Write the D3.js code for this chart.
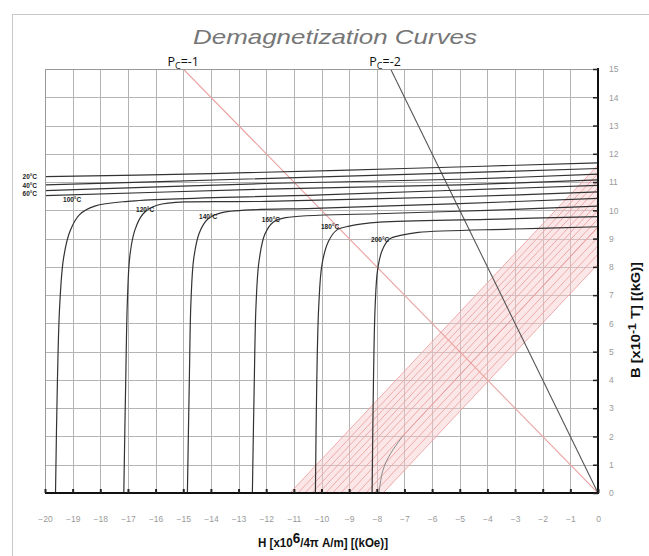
<!DOCTYPE html>
<html>
<head>
<meta charset="utf-8">
<script src="https://cdn.jsdelivr.net/npm/d3@7"></script>
<style>
  body { margin: 0; background: #fff; }
  svg { display: block; }
</style>
</head>
<body>
<script>
// axis ticks
var hTicks = [-20, -19, -18, -17, -16, -15, -14, -13, -12, -11, -10, -9, -8, -7, -6, -5, -4, -3, -2, -1, 0];
var bTicks = [0, 1, 2, 3, 4, 5, 6, 7, 8, 9, 10, 11, 12, 13, 14, 15];

// intrinsic curves [H kOe, B kG]
var curve20  = [[-20.6, 11.18], [-14, 11.3], [-7, 11.48], [0, 11.68]];
var curve40  = [[-20.6, 10.88], [-13, 11.1], [-6, 11.3], [0, 11.48]];
var curve60  = [[-20.6, 10.68], [-12, 10.95], [-5, 11.1], [0, 11.28]];
var curve80  = [[-20.6, 10.5], [-12, 10.75], [-5, 10.9], [0, 11.08]];
var curve100 = [[-19.62, 0], [-19.55, 4], [-19.47, 6.6], [-19.33, 8.3], [-19.1, 9.25], [-18.75, 9.85], [-18.2, 10.15], [-17, 10.32], [-10, 10.55], [0, 10.88]];
var curve120 = [[-17.15, 0], [-17.08, 4], [-17.02, 6.8], [-16.93, 8.4], [-16.75, 9.3], [-16.45, 9.88], [-15.95, 10.18], [-12, 10.32], [-5, 10.48], [0, 10.65]];
var curve140 = [[-14.85, 0], [-14.78, 4], [-14.72, 6.8], [-14.62, 8.3], [-14.42, 9.2], [-14.1, 9.7], [-13.6, 9.92], [-10, 10.08], [-5, 10.24], [0, 10.42]];
var curve160 = [[-12.5, 0], [-12.43, 4], [-12.37, 6.6], [-12.26, 8.2], [-12.05, 9.15], [-11.75, 9.58], [-11.3, 9.74], [-8, 9.88], [-4, 10.0], [0, 10.15]];
var curve180 = [[-10.22, 0], [-10.17, 4], [-10.1, 6.6], [-9.98, 8.1], [-9.75, 8.9], [-9.45, 9.3], [-9.0, 9.44], [-7.9, 9.58], [-4, 9.68], [0, 9.78]];
var curve200 = [[-8.17, 0], [-8.12, 4], [-8.06, 6.6], [-7.97, 7.9], [-7.8, 8.6], [-7.55, 8.98], [-7.1, 9.12], [-6.5, 9.22], [-3, 9.34], [0, 9.42]];
var intrinsic = [curve20, curve40, curve60, curve80, curve100, curve120, curve140, curve160, curve180, curve200];

// temperature labels and where they sit [H, B]
var tempNames = ['20°C', '40°C', '60°C', '100°C', '120°C', '140°C', '160°C', '180°C', '200°C'];
var tempAt = [[-20.55, 11.2], [-20.55, 10.88], [-20.55, 10.6], [-19.02, 10.38], [-16.38, 10.02], [-14.1, 9.78], [-11.83, 9.67], [-9.69, 9.42], [-7.88, 8.96]];

// normal (B) lines: H at B=0 and B at H=0
var normalHcb = [-11.14, -10.85, -10.6, -10.35, -10.1, -9.85, -9.6, -9.3, -9.0, -8.7, -8.4, -8.1, -7.77];
var normalBr  = [11.6, 11.3, 11.05, 10.8, 10.5, 10.25, 10.0, 9.7, 9.4, 9.05, 8.75, 8.45, 8.1];
var normal200 = [[-7.05, 2.02], [0, 9.42]];
var knee200   = [[-7.92, 0], [-7.78, 0.8], [-7.5, 1.4], [-7.05, 2.02]];

// permeance lines
var pc1 = [[0, 0], [-15, 15]];
var pc2 = [[0, 0], [-7.5, 15]];

var W = 649, Ht = 556;
var plot = {left: 45, right: 598, top: 69, bottom: 493};

var svg = d3.select('body').append('svg')
  .attr('width', W)
  .attr('height', Ht)
  .style('font-family', 'Liberation Sans, Arial, sans-serif');

var x = d3.scaleLinear().domain([-20, 0]).range([plot.left, plot.right]);
var y = d3.scaleLinear().domain([0, 15]).range([plot.bottom, plot.top]);

// outer frame
svg.append('rect')
  .attr('x', 12.5).attr('y', 14.5)
  .attr('width', 700).attr('height', 700)
  .attr('fill', 'none')
  .attr('stroke', '#c8c8c8');

svg.append('text')
  .attr('x', 335).attr('y', 44)
  .attr('text-anchor', 'middle')
  .attr('font-size', 21)
  .attr('font-style', 'italic')
  .attr('fill', '#767676')
  .attr('textLength', 284)
  .attr('lengthAdjust', 'spacingAndGlyphs')
  .text('Demagnetization Curves');

svg.append('clipPath').attr('id', 'clip')
  .append('rect')
  .attr('x', plot.left).attr('y', plot.top)
  .attr('width', plot.right - plot.left)
  .attr('height', plot.bottom - plot.top);

// grid
var grid = svg.append('g').attr('stroke', '#b4b4b4').attr('stroke-width', 1);
grid.selectAll('.v').data(hTicks).enter().append('line')
  .attr('x1', function(d){ return Math.round(x(d)) + 0.5; })
  .attr('x2', function(d){ return Math.round(x(d)) + 0.5; })
  .attr('y1', plot.top).attr('y2', plot.bottom);
grid.selectAll('.h').data(bTicks).enter().append('line')
  .attr('y1', function(d){ return Math.round(y(d)) + 0.5; })
  .attr('y2', function(d){ return Math.round(y(d)) + 0.5; })
  .attr('x1', plot.left).attr('x2', plot.right);

var line = d3.line()
  .x(function(d){ return x(d[0]); })
  .y(function(d){ return y(d[1]); });
var smooth = d3.line()
  .x(function(d){ return x(d[0]); })
  .y(function(d){ return y(d[1]); })
  .curve(d3.curveCatmullRom.alpha(0.5));

var g = svg.append('g').attr('clip-path', 'url(#clip)');

// pink band between first and last normal lines
var last = normalHcb.length - 1;
var band = [[normalHcb[0], 0], [0, normalBr[0]], [0, normalBr[last]], [normalHcb[last], 0]];
g.append('path')
  .attr('d', line(band) + 'Z')
  .attr('fill', '#f6c9c9')
  .attr('opacity', 0.45);

g.selectAll('.normal').data(normalHcb).enter().append('path')
  .attr('d', function(d, i){ return line([[d, 0], [0, normalBr[i]]]); })
  .attr('fill', 'none')
  .attr('stroke', '#eda3a3')
  .attr('stroke-width', 0.9);
g.append('path').attr('d', line(normal200))
  .attr('fill', 'none').attr('stroke', '#e59a9a').attr('stroke-width', 0.9);
g.append('path').attr('d', smooth(knee200))
  .attr('fill', 'none').attr('stroke', '#8a8a8a').attr('stroke-width', 1);

g.append('path').attr('d', line(pc1))
  .attr('fill', 'none').attr('stroke', '#eaa0a0').attr('stroke-width', 1.1);
g.append('path').attr('d', line(pc2))
  .attr('fill', 'none').attr('stroke', '#555').attr('stroke-width', 1.1);

g.selectAll('.intr').data(intrinsic).enter().append('path')
  .attr('d', function(d){ return smooth(d); })
  .attr('fill', 'none')
  .attr('stroke', '#333')
  .attr('stroke-width', 1.2);

// plot border: light top / left, heavy right / bottom axes
svg.append('line').attr('x1', plot.left).attr('x2', plot.right)
  .attr('y1', plot.top + 0.5).attr('y2', plot.top + 0.5).attr('stroke', '#999');
svg.append('line').attr('x1', plot.left + 0.5).attr('x2', plot.left + 0.5)
  .attr('y1', plot.top).attr('y2', plot.bottom).attr('stroke', '#999');
svg.append('line').attr('x1', plot.right).attr('x2', plot.right)
  .attr('y1', plot.top - 1).attr('y2', plot.bottom + 1)
  .attr('stroke', '#111').attr('stroke-width', 2);
svg.append('line').attr('x1', plot.left).attr('x2', plot.right + 1)
  .attr('y1', plot.bottom).attr('y2', plot.bottom)
  .attr('stroke', '#111').attr('stroke-width', 2);

var yAxis = d3.axisRight(y).tickValues(bTicks).tickSize(-5).tickPadding(11);
var ya = svg.append('g').attr('transform', 'translate(' + plot.right + ',0)').call(yAxis);
ya.select('.domain').remove();
ya.selectAll('line').attr('stroke', '#222').attr('stroke-width', 1.5);
ya.selectAll('text').attr('font-size', 8.5).attr('fill', '#999');

var xAxis = d3.axisBottom(x).tickValues(hTicks).tickSize(-4).tickPadding(23);
var xa = svg.append('g').attr('transform', 'translate(0,' + plot.bottom + ')').call(xAxis);
xa.select('.domain').remove();
xa.selectAll('line').attr('stroke', '#222').attr('stroke-width', 2);
xa.selectAll('text').attr('font-size', 8.5).attr('fill', '#999');

// temperature labels
svg.selectAll('.tlab').data(tempNames).enter().append('text')
  .attr('x', function(d, i){ return x(tempAt[i][0]); })
  .attr('y', function(d, i){ return y(tempAt[i][1]) + 2.5; })
  .attr('text-anchor', 'middle')
  .attr('font-size', 6.5)
  .attr('font-weight', 'bold')
  .attr('fill', '#222')
  .text(function(d){ return d; });

// permeance labels
function pcLabel(h, val) {
  var t = svg.append('text')
    .attr('x', x(h)).attr('y', 66)
    .attr('text-anchor', 'middle')
    .attr('font-family', 'Open Sans, Noto Sans, sans-serif')
    .attr('font-size', 12.5)
    .attr('fill', '#111');
  t.append('tspan').text('P');
  t.append('tspan').attr('font-size', 9).attr('dy', 3).text('C');
  t.append('tspan').attr('dy', -3).text('=' + val);
}
pcLabel(pc1[1][0], '-1');
pcLabel(pc2[1][0] - 0.2, '-2');

// axis titles
var xt = svg.append('text')
  .attr('x', 323).attr('y', 547)
  .attr('text-anchor', 'middle')
  .attr('font-weight', 'bold')
  .attr('font-size', 12)
  .attr('fill', '#111')
  .attr('textLength', 130)
  .attr('lengthAdjust', 'spacingAndGlyphs');
xt.append('tspan').text('H [x10');
xt.append('tspan').attr('font-size', 14).attr('dy', -4).text('6');
xt.append('tspan').attr('dy', 4).text('/4\u03c0 A/m]  [(kOe)]');

var yt = svg.append('text')
  .attr('transform', 'translate(640,320) rotate(-90)')
  .attr('text-anchor', 'middle')
  .attr('font-weight', 'bold')
  .attr('font-size', 12)
  .attr('fill', '#111')
  .attr('textLength', 116)
  .attr('lengthAdjust', 'spacingAndGlyphs');
yt.append('tspan').text('B [x10');
yt.append('tspan').attr('font-size', 10).attr('dy', -4).text('-1');
yt.append('tspan').attr('dy', 4).text(' T]  [(kG)]');
</script>
</body>
</html>
